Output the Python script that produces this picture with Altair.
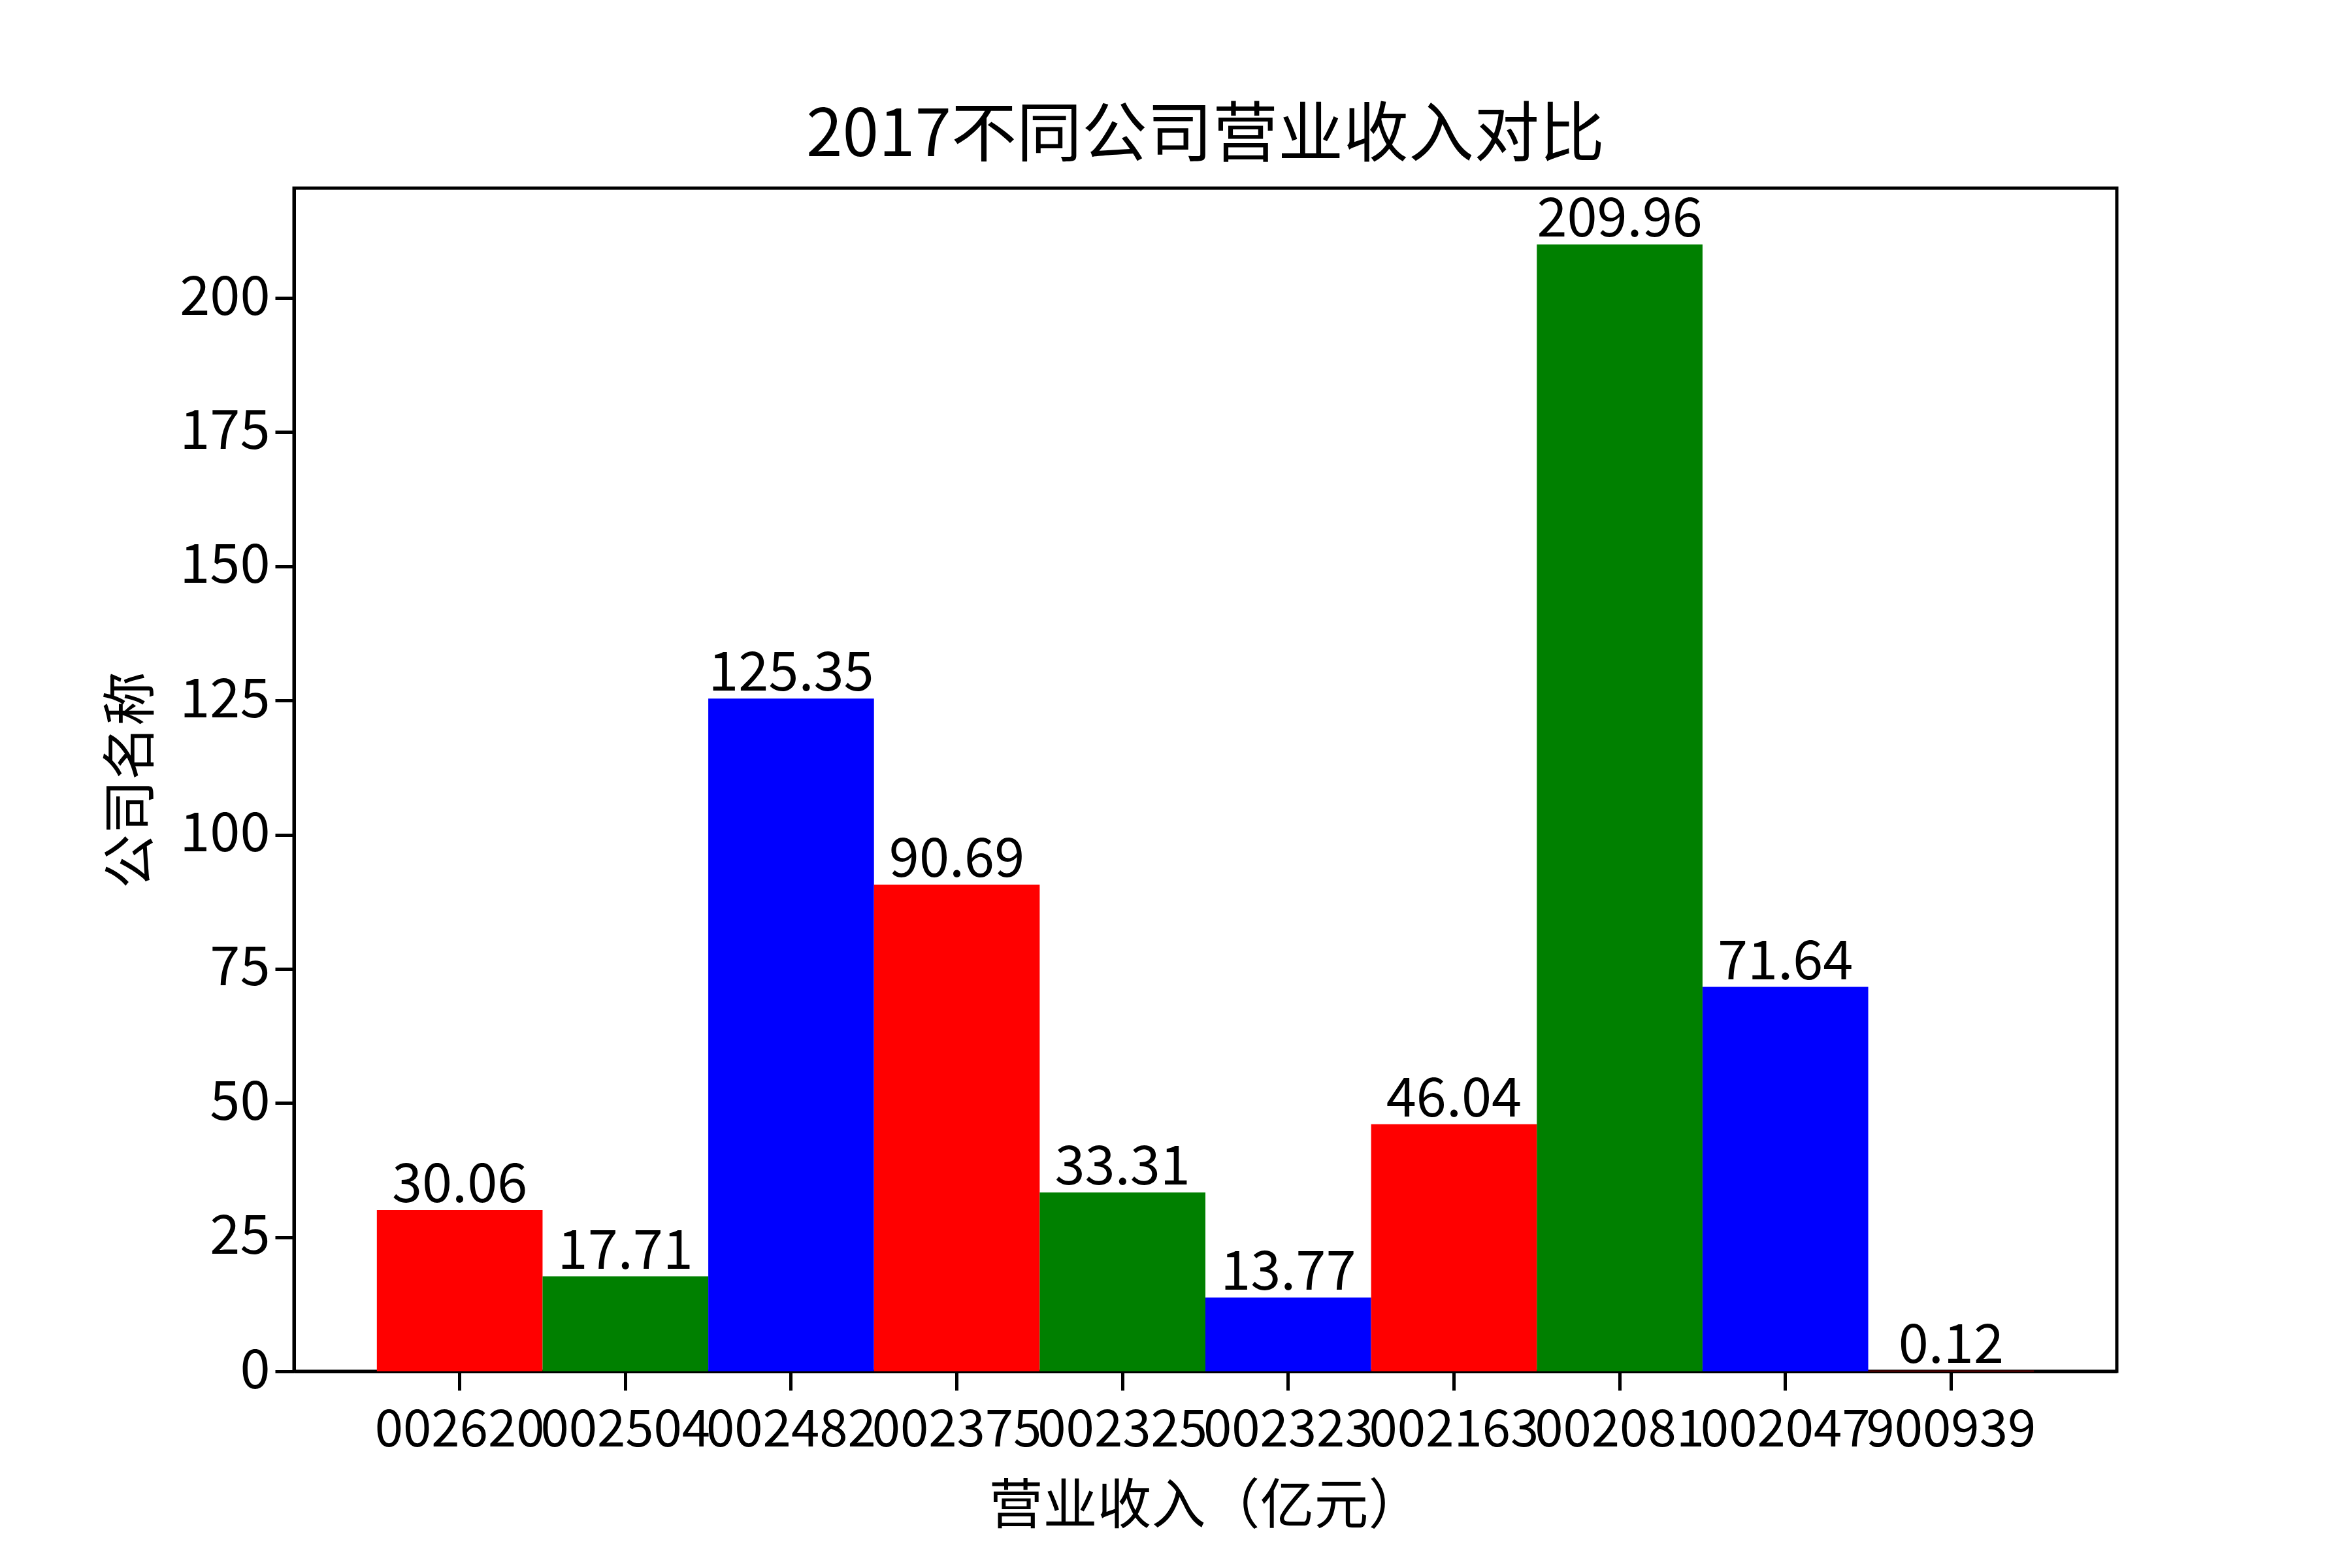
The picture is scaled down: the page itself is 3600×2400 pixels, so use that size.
import altair as alt
import pandas as pd

codes = ["002620", "002504", "002482", "002375", "002325",
         "002323", "002163", "002081", "002047", "900939"]
revenue = [30.06, 17.71, 125.35, 90.69, 33.31, 13.77, 46.04, 209.96, 71.64, 0.12]
bar_colors = ["#ff0000", "#008000", "#0000ff", "#ff0000", "#008000",
              "#0000ff", "#ff0000", "#008000", "#0000ff", "#ff0000"]
y_ticks = [0, 25, 50, 75, 100, 125, 150, 175, 200]

df = pd.DataFrame({
    "code": codes,
    "revenue": revenue,
    "color": bar_colors,
    "label": [f"{v:.2f}" for v in revenue],
})

FONT = "Noto Sans CJK SC"

x_enc = alt.X(
    "code:N",
    sort=codes,
    scale=alt.Scale(paddingInner=0, paddingOuter=0.5),
    axis=alt.Axis(
        title="营业收入（亿元）",
        labelAngle=0,
        labelOverlap=False,
        labelLimit=0,
        labelFontSize=78,
        labelFont=FONT,
        labelColor="black",
        labelPadding=23,
        tickSize=29,
        tickWidth=5,
        tickColor="black",
        domainColor="black",
        domainWidth=5,
        titleFontSize=83,
        titleFont=FONT,
        titleFontWeight="normal",
        titleColor="black",
        titlePadding=36,
        grid=False,
    ),
)

y_enc = alt.Y(
    "revenue:Q",
    scale=alt.Scale(domain=[0, 220.46], nice=False, zero=True),
    axis=alt.Axis(
        title="公司名称",
        values=y_ticks,
        labelFontSize=83,
        labelFont=FONT,
        labelColor="black",
        labelPadding=8,
        tickSize=29,
        tickWidth=5,
        tickColor="black",
        domainColor="black",
        domainWidth=5,
        titleFontSize=83,
        titleFont=FONT,
        titleFontWeight="normal",
        titleColor="black",
        titlePadding=30,
        grid=False,
    ),
)

bars = alt.Chart(df).mark_bar(cornerRadius=0).encode(
    x=x_enc,
    y=y_enc,
    color=alt.Color("color:N", scale=None),
)

labels = alt.Chart(df).mark_text(
    baseline="alphabetic", align="center", dy=-12, fontSize=83, font=FONT, color="black"
).encode(
    x=alt.X("code:N", sort=codes),
    y=alt.Y("revenue:Q"),
    text="label:N",
)

chart = (
    alt.layer(bars, labels)
    .properties(
        width=2790,
        height=1811,
        title=alt.TitleParams(
            text="2017不同公司营业收入对比",
            fontSize=100,
            font=FONT,
            fontWeight="normal",
            color="black",
            offset=28,
        ),
        autosize=alt.AutoSizeParams(type="none"),
        padding={"left": 450, "top": 288, "right": 360, "bottom": 301},
        background="white",
    )
    .configure_view(stroke="black", strokeWidth=5)
)

chart.save("out.html", embed_options={"renderer": "svg", "actions": False})
